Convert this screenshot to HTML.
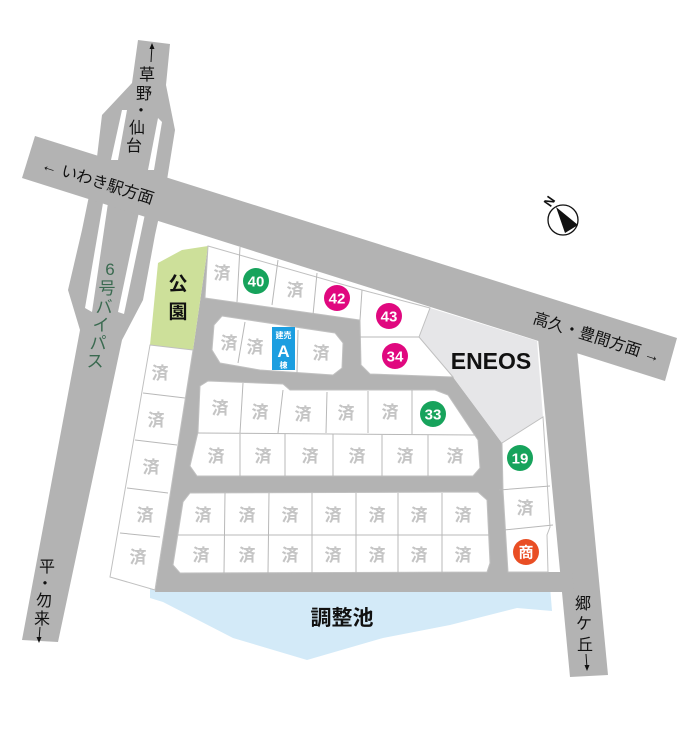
<!DOCTYPE html>
<html><head><meta charset="utf-8"><style>
html,body{margin:0;padding:0;background:#fff;}
svg{display:block;font-family:"Liberation Sans","Noto Sans CJK JP",sans-serif;}
.z{fill:#c4c4c4;font-size:17px;font-weight:bold;text-anchor:middle;}
.n{fill:#fff;font-size:15px;font-weight:bold;text-anchor:middle;}
.l{fill:none;stroke:#b8b8b8;stroke-width:1;}
.r{font-size:16px;fill:#111;}
</style></head><body>
<svg width="698" height="740" viewBox="0 0 698 740" xmlns="http://www.w3.org/2000/svg">
<rect width="698" height="740" fill="#fff"/>
<!-- pond -->
<polygon points="150,588 550,586 552,611 517,608 450,625 383,638 307,660 233,638 163,602 150,598" fill="#d3eaf8"/>
<!-- bypass -->
<polygon points="138,40 170,44 166,85 175,130 167,180 155,235 143,300 122,340 58,642 22,640 80,330 68,290 82,230 97,157 102,115 132,83" fill="#b3b3b3"/>
<polygon points="122,110 127,110 118,160 111,160" fill="#fff"/>
<polygon points="158,118 162,122 154,170 148,170" fill="#fff"/>
<polygon points="103,203 108,203 92,312 85,308" fill="#fff"/>
<polygon points="139,212 145,214 124,314 118,312" fill="#fff"/>
<!-- main road -->
<polygon points="35,136 677,338 665,381 22,178" fill="#b3b3b3"/>
<!-- right road -->
<polygon points="538,338 577,350 608,675 570,677" fill="#b3b3b3"/>
<!-- interior gray -->
<polygon points="208,246 362,290 430,308 419,337 453,377 502,443 508,572 572,572 574,592 155,592 193,350" fill="#b3b3b3"/>
<!-- park -->
<polygon points="158,263 182,250 208,246 193,350 150,345" fill="#cde09a"/>
<text x="178" y="290" font-size="19" font-weight="bold" text-anchor="middle" fill="#111">公</text>
<text x="178" y="318" font-size="19" font-weight="bold" text-anchor="middle" fill="#111">園</text>
<!-- ENEOS -->
<polygon points="430,308 537,341 543,417 502,443 453,377 419,337" fill="#e6e6e8"/>
<text x="491" y="369" font-size="23" font-weight="bold" text-anchor="middle" fill="#111">ENEOS</text>
<!-- top row lots -->
<polygon points="208,246 362,290 430,308 419,337 453,377 370,374 361,365 360,320 205,298" fill="#fff" stroke="#c0c0c0"/>
<path class="l" d="M240,247 L237,302 M278,260 L272,305 M317,273 L313,315 M362,290 L360,320 M360,337 L419,337"/>
<!-- left column -->
<polygon points="150,345 193,350 155,590 110,577" fill="#fff" stroke="#c0c0c0"/>
<path class="l" d="M143,393 L185,398 M135,440 L177,445 M127,488 L168,493 M120,533 L160,537"/>
<!-- block A -->
<polygon points="222,316 335,333 343,343 342,368 333,375 260,370 220,363 212,350 214,325" fill="#fff" stroke="#c0c0c0"/>
<path class="l" d="M245,322 L238,363 M298,330 L297,373"/>
<rect x="272" y="327" width="23" height="43" fill="#1c9ee0"/>
<text x="283.5" y="338" font-size="8" font-weight="bold" fill="#fff" text-anchor="middle">建売</text>
<text x="283.5" y="357" font-size="17" font-weight="bold" fill="#fff" text-anchor="middle">A</text>
<text x="283.5" y="368" font-size="8" font-weight="bold" fill="#fff" text-anchor="middle">棟</text>
<!-- block B1 -->
<polygon points="200,386 208,381 283,384 290,390 435,390 448,395 478,440 480,468 473,476 197,476 190,466 198,432" fill="#fff" stroke="#c0c0c0"/>
<path class="l" d="M197,433 L476,435 M243,383 L240,433 M283,390 L278,433 M327,392 L326,433 M368,391 L368,433 M412,390 L412,434 M240,434 L240,476 M285,434 L285,476 M333,434 L333,476 M382,434 L382,476 M428,435 L428,476"/>
<!-- block B2 -->
<polygon points="190,493 478,492 487,500 490,563 487,572 180,573 173,565 183,502" fill="#fff" stroke="#c0c0c0"/>
<path class="l" d="M178,535 L490,535 M225,493 L224,573 M269,493 L268,573 M312,493 L312,573 M356,493 L356,573 M398,493 L398,573 M442,493 L442,573"/>
<!-- column 19 -->
<polygon points="502,443 543,417 550,527 547,535 548,572 508,572 503,490" fill="#fff" stroke="#c0c0c0"/>
<path class="l" d="M499,490 L550,486 M504,530 L553,525"/>
<!-- 済 labels -->
<g class="z">
<text x="222" y="279">済</text><text x="295" y="296">済</text>
<text x="229" y="349">済</text><text x="255" y="353">済</text><text x="321" y="359">済</text>
<text x="160" y="379">済</text><text x="156" y="426">済</text><text x="151" y="473">済</text><text x="145" y="521">済</text><text x="138" y="563">済</text>
<text x="220" y="414">済</text><text x="260" y="418">済</text><text x="303" y="420">済</text><text x="346" y="419">済</text><text x="390" y="418">済</text>
<text x="216" y="462">済</text><text x="263" y="462">済</text><text x="310" y="462">済</text><text x="357" y="462">済</text><text x="405" y="462">済</text><text x="455" y="462">済</text>
<text x="203" y="521">済</text><text x="247" y="521">済</text><text x="290" y="521">済</text><text x="333" y="521">済</text><text x="377" y="521">済</text><text x="419" y="521">済</text><text x="463" y="521">済</text>
<text x="201" y="561">済</text><text x="247" y="561">済</text><text x="290" y="561">済</text><text x="333" y="561">済</text><text x="377" y="561">済</text><text x="419" y="561">済</text><text x="463" y="561">済</text>
<text x="525" y="514">済</text>
</g>
<!-- number circles -->
<circle cx="256" cy="281" r="13" fill="#17a35c"/><text class="n" x="256" y="286.5">40</text>
<circle cx="337" cy="298" r="13" fill="#e0087f"/><text class="n" x="337" y="303.5">42</text>
<circle cx="389" cy="316" r="13" fill="#e0087f"/><text class="n" x="389" y="321.5">43</text>
<circle cx="395" cy="356" r="13" fill="#e0087f"/><text class="n" x="395" y="361.5">34</text>
<circle cx="433" cy="414" r="13" fill="#17a35c"/><text class="n" x="433" y="419.5">33</text>
<circle cx="520" cy="458" r="13" fill="#17a35c"/><text class="n" x="520" y="463.5">19</text>
<circle cx="526" cy="552" r="13" fill="#e94e24"/><text class="n" x="526" y="557.5" font-size="14">商</text>
<!-- pond label -->
<text x="342" y="625" font-size="21" font-weight="bold" text-anchor="middle" fill="#111">調整池</text>
<!-- road labels -->
<g transform="translate(98,181) rotate(17.5)"><text class="r" x="0" y="6" text-anchor="middle">← いわき駅方面</text></g>
<g transform="translate(597,337) rotate(17.5)"><text class="r" x="0" y="6" text-anchor="middle">高久・豊間方面 →</text></g>
<g class="r" text-anchor="middle" font-size="17">
<line x1="152" y1="45" x2="151" y2="62" stroke="#111" stroke-width="1"/><polygon points="152,43 149.5,49 154.5,49" fill="#111"/>
<text x="147" y="80">草</text><text x="144" y="99">野</text><text x="141" y="116">・</text><text x="137" y="133">仙</text><text x="134" y="151">台</text>
<text x="47" y="572">平</text><text x="45" y="589">・</text><text x="44" y="606">勿</text><text x="42" y="624">来</text>
<line x1="40" y1="627" x2="39" y2="640" stroke="#111"/><polygon points="39,643 36.5,637 41.5,637" fill="#111"/>
<text x="583" y="609">郷</text><text x="584" y="629">ケ</text><text x="585" y="650">丘</text>
<line x1="586" y1="654" x2="587" y2="668" stroke="#111"/><polygon points="587,671 584.5,665 589.5,665" fill="#111"/>
</g>
<g fill="#3a6a50" font-size="17" text-anchor="middle">
<text x="110" y="275">6</text><text x="107" y="294">号</text>
<text x="104" y="313">バ</text><text x="101" y="331">イ</text><text x="98" y="349">パ</text><text x="95" y="367">ス</text>
</g>
<!-- compass -->
<circle cx="563" cy="220" r="15" fill="#fff" stroke="#111" stroke-width="1.3"/>
<polygon points="556,207 578,225 565,233" fill="#111"/>
<g transform="translate(549,201) rotate(-55)"><text x="0" y="5" font-size="13" font-weight="bold" text-anchor="middle" fill="#111">N</text></g>
</svg>
</body></html>
